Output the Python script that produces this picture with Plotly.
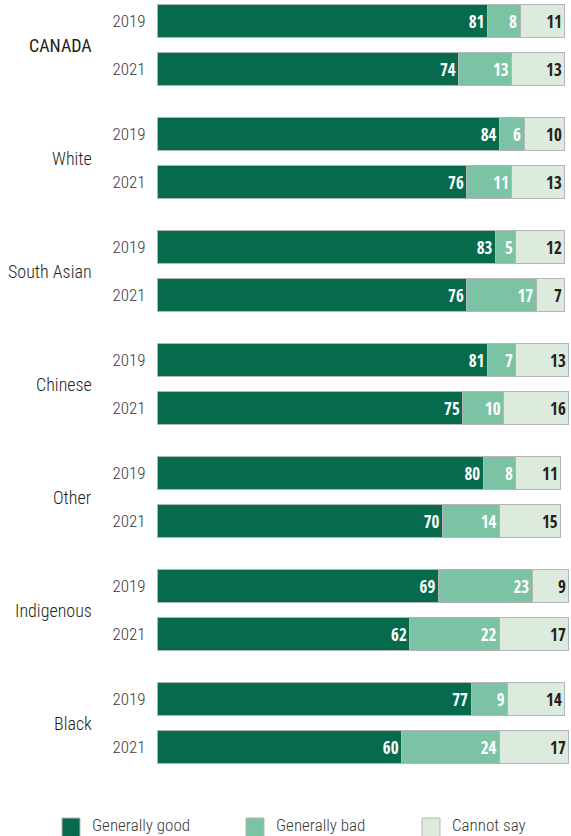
import plotly.graph_objects as go

# Opinion shares (%) by population group, 2019 vs 2021
groups = ["CANADA", "White", "South Asian", "Chinese", "Other", "Indigenous", "Black"]
years = ["2019", "2021"]
good = [[81, 74], [84, 76], [83, 76], [81, 75], [80, 70], [69, 62], [77, 60]]
bad = [[8, 13], [6, 11], [5, 17], [7, 10], [8, 14], [23, 22], [9, 24]]
cannot = [[11, 13], [10, 13], [12, 7], [13, 16], [11, 15], [9, 17], [14, 17]]

series_names = ["Generally good", "Generally bad", "Cannot say"]
series_values = [good, bad, cannot]
colors = ["#066b4c", "#7cc3a6", "#dcebde"]
text_colors = ["white", "white", "#231f20"]

FONT = "Roboto Condensed, Arial Narrow, sans-serif"
VALUE_FONT = "Open Sans Condensed, Roboto Condensed, sans-serif"
GROUP_STEP = 113 / 48  # spacing between groups, in row units

PLOT_W = 571 - 157
PLOT_H = 775

# Row positions: each group has a 2019 row and a 2021 row
pos, tick_text = [], []
for gi, _ in enumerate(groups):
    for yi, yr in enumerate(years):
        pos.append(gi * GROUP_STEP + yi)
        tick_text.append(yr)

fig = go.Figure()
for name, vals, col, tcol in zip(series_names, series_values, colors, text_colors):
    flat = [v for pair in vals for v in pair]
    fig.add_trace(go.Bar(
        x=flat, y=pos, orientation="h", name=name,
        marker=dict(color=col, line=dict(color="#b5b5b5", width=1)),
        width=0.67,
        text=[str(v) for v in flat],
        textposition="inside", insidetextanchor="end",
        textfont=dict(family=VALUE_FONT, size=17, color=tcol, weight="bold"),
        constraintext="none", cliponaxis=False,
        showlegend=False, hoverinfo="skip",
    ))

# Group labels to the left of the year labels (the national total in a heavier weight)
annotations = []
for gi, g in enumerate(groups):
    annotations.append(dict(
        x=-63 / PLOT_W, xref="paper", xanchor="right",
        y=gi * GROUP_STEP + 0.5, yref="y", yanchor="middle",
        text=g, showarrow=False,
        font=dict(family=FONT, size=18, color="#231f20",
                  weight=400 if gi == 0 else 300),
    ))


def px_to_paper_y(py):
    return (PLOT_H - py) / PLOT_H


def px_to_paper_x(px):
    return (px - 157) / PLOT_W


# Legend drawn as swatches with labels along the bottom
shapes = []
legend_x = [62, 246, 422]
for name, col, lx in zip(series_names, colors, legend_x):
    shapes.append(dict(
        type="rect", xref="paper", yref="paper",
        x0=px_to_paper_x(lx), x1=px_to_paper_x(lx + 18),
        y0=px_to_paper_y(818), y1=px_to_paper_y(838),
        fillcolor=col, line=dict(color="#b5b5b5", width=1),
    ))
    annotations.append(dict(
        x=px_to_paper_x(lx + 28), xref="paper", xanchor="left",
        y=px_to_paper_y(825), yref="paper", yanchor="middle",
        text=name, showarrow=False,
        font=dict(family=FONT, size=17, color="#3a3a3a", weight=300),
    ))

fig.update_layout(
    barmode="stack",
    width=571, height=836,
    margin=dict(l=157, r=0, t=0, b=836 - PLOT_H),
    paper_bgcolor="white", plot_bgcolor="white",
    uniformtext=dict(minsize=17, mode="show"),
    xaxis=dict(range=[0, 101.5], visible=False, fixedrange=True),
    yaxis=dict(
        range=[PLOT_H / 48 - 21 / 48, -21 / 48],
        tickmode="array", tickvals=pos, ticktext=tick_text,
        ticks="outside", ticklen=7, tickcolor="rgba(0,0,0,0)",
        showline=False, showgrid=False, zeroline=False,
        tickfont=dict(family=FONT, size=17, color="#3a3a3a", weight=300),
    ),
    annotations=annotations,
    shapes=shapes,
    showlegend=False,
)

fig.write_html("out.html")
